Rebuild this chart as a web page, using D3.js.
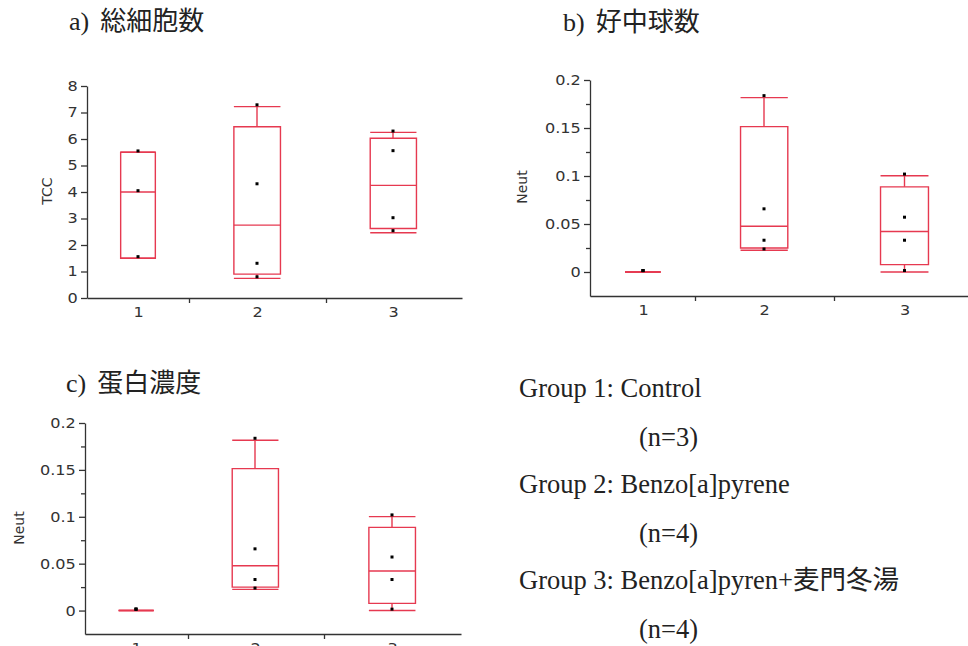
<!DOCTYPE html>
<html lang="ja">
<head>
<meta charset="UTF-8">
<title>Box charts</title>
<script src="https://d3js.org/d3.v7.min.js"></script>
<style>
  body { margin: 0; background: #fff; }
  .axis path, .axis line { stroke: #333; stroke-width: 1.3px; }
  .axis text { font-family: "DejaVu Sans", sans-serif; font-size: 14px; fill: #333; }
  .box { fill: none; stroke: #e63950; stroke-width: 1.4px; }
  .title { font-family: "Liberation Serif", "Noto Sans CJK JP", serif; font-size: 26px; fill: #222; }
  .ylab { font-family: "DejaVu Sans", sans-serif; font-size: 14px; fill: #333; }
  .legend { font-family: "Liberation Serif", "Noto Sans CJK JP", serif; font-size: 26.5px; fill: #222; }
</style>
</head>
<body>
<svg width="968" height="646"></svg>
<script>
// groups on the x axis
const groups = [1, 2, 3];

// a) total cell count (TCC)
const tccWhiskerLow  = [1.5, 0.74, 2.46];
const tccBoxLow      = [1.5, 0.9, 2.62];
const tccMedian      = [4.0, 2.75, 4.25];
const tccBoxHigh     = [5.5, 6.46, 6.03];
const tccWhiskerHigh = [5.5, 7.22, 6.25];
const tccPoints = [[1.56, 4.05, 5.55], [0.80, 1.31, 4.31, 7.29], [2.54, 3.03, 5.56, 6.30]];

// b) neutrophils (Neut)
const neutWhiskerLow  = [0, 0.0226, 0];
const neutBoxLow      = [0, 0.025, 0.0077];
const neutMedian      = [0, 0.0477, 0.0422];
const neutBoxHigh     = [0, 0.1514, 0.0887];
const neutWhiskerHigh = [0, 0.1816, 0.1002];
const neutPoints = [[0.0015, 0.0015, 0.0015], [0.024, 0.0331, 0.0658, 0.1837], [0.0015, 0.0331, 0.0571, 0.102]];

// c) protein (the original plot shows the same values as b)
const protWhiskerLow  = [0, 0.0226, 0];
const protBoxLow      = [0, 0.025, 0.0077];
const protMedian      = [0, 0.0477, 0.0422];
const protBoxHigh     = [0, 0.1514, 0.0887];
const protWhiskerHigh = [0, 0.1816, 0.1002];
const protPoints = [[0.0015, 0.0015, 0.0015], [0.024, 0.0331, 0.0658, 0.1837], [0.0015, 0.0331, 0.0571, 0.102]];

const tccTicks = [0, 1, 2, 3, 4, 5, 6, 7, 8];
const neutTicks = [0, 0.05, 0.1, 0.15, 0.2];
const neutMinor = [0.025, 0.075, 0.125, 0.175];

const groupNames = ["Control", "Benzo[a]pyrene", "Benzo[a]pyren+麦門冬湯"];
const groupN = [3, 4, 4];

const svg = d3.select("svg");
svg.append("rect").attr("width", 968).attr("height", 646).attr("fill", "#fff");

function drawPanel(p, s) {
  const g = svg.append("g");
  const y = d3.scaleLinear().domain(p.yDomain).range([p.yBottom, p.yTop]);
  // the original's x axis is slightly uneven, so map it piecewise
  const x = d3.scaleLinear().domain([0.5, 1, 1.5, 2, 2.5, 3, 3.5]).range(p.xRange);
  const x0 = p.xRange[0];

  const ya = g.append("g").attr("class", "axis").attr("transform", `translate(${x0},0)`)
    .call(d3.axisLeft(y).tickValues(p.ticks).tickSize(6).tickSizeOuter(0).tickPadding(2)
      .tickFormat(d => String(d)));
  ya.selectAll("text").attr("transform", "scale(1.15,1)");

  if (p.minor) {
    g.append("g").attr("class", "axis").attr("transform", `translate(${x0},0)`)
      .call(d3.axisLeft(y).tickValues(p.minor).tickSize(4).tickFormat(""))
      .select(".domain").remove();
  }

  g.append("g").attr("class", "axis").attr("transform", `translate(0,${p.yBottom})`)
    .call(d3.axisBottom(x).tickValues([1.5, 2.5]).tickSize(5).tickSizeOuter(0).tickFormat(""));

  const xl = g.append("g").attr("class", "axis").attr("transform", `translate(0,${p.yBottom})`)
    .call(d3.axisBottom(x).tickValues(groups).tickSize(0).tickPadding(9).tickFormat(d => String(d)));
  xl.select(".domain").remove();
  xl.selectAll("text").attr("transform", "scale(1.15,1)");

  g.append("text").attr("class", "ylab")
    .attr("transform", `translate(${p.labelX},${p.labelY}) rotate(-90)`)
    .attr("text-anchor", "middle").attr("dy", "0.35em").text(p.label);

  groups.forEach((grp, i) => {
    const cx = x(grp), xa = x(grp - 0.17), xb = x(grp + 0.17);
    const b = g.append("g");
    b.append("path").attr("class", "box")
      .attr("d", `M${cx},${y(s.whiskerHigh[i])}V${y(s.boxHigh[i])}M${cx},${y(s.boxLow[i])}V${y(s.whiskerLow[i])}`);
    b.append("path").attr("class", "box")
      .attr("d", `M${xa},${y(s.whiskerHigh[i])}H${xb}M${xa},${y(s.whiskerLow[i])}H${xb}`);
    b.append("path").attr("class", "box")
      .attr("d", `M${xa},${y(s.boxHigh[i])}H${xb}V${y(s.boxLow[i])}H${xa}Z`);
    b.append("path").attr("class", "box")
      .attr("d", `M${xa},${y(s.median[i])}H${xb}`);
    b.selectAll("rect").data(s.points[i]).join("rect")
      .attr("x", cx - 1.5).attr("y", d => y(d) - 1.5)
      .attr("width", 3).attr("height", 3).attr("fill", "#000");
  });

  const t = svg.append("text").attr("class", "title").attr("x", p.titleX).attr("y", p.titleY);
  t.append("tspan").text(p.titleTag);
  t.append("tspan").attr("dx", 11).text(p.titleText);
}

drawPanel({
  yDomain: [0, 8], yBottom: 298, yTop: 86, ticks: tccTicks,
  xRange: [87, 138, 189, 257, 326, 393, 462],
  label: "TCC", labelX: 47, labelY: 191,
  titleTag: "a)", titleText: "総細胞数", titleX: 69, titleY: 30
}, { whiskerLow: tccWhiskerLow, boxLow: tccBoxLow, median: tccMedian, boxHigh: tccBoxHigh,
     whiskerHigh: tccWhiskerHigh, points: tccPoints });

drawPanel({
  yDomain: [-0.025, 0.2], yBottom: 296, yTop: 80, ticks: neutTicks, minor: neutMinor,
  xRange: [590, 643, 695, 764, 834, 904.5, 975],
  label: "Neut", labelX: 522, labelY: 187,
  titleTag: "b)", titleText: "好中球数", titleX: 563, titleY: 31
}, { whiskerLow: neutWhiskerLow, boxLow: neutBoxLow, median: neutMedian, boxHigh: neutBoxHigh,
     whiskerHigh: neutWhiskerHigh, points: neutPoints });

drawPanel({
  yDomain: [-0.025, 0.2], yBottom: 634, yTop: 423, ticks: neutTicks, minor: neutMinor,
  xRange: [85, 136, 188, 255, 324, 392, 461],
  label: "Neut", labelX: 19, labelY: 528,
  titleTag: "c)", titleText: "蛋白濃度", titleX: 66, titleY: 392
}, { whiskerLow: protWhiskerLow, boxLow: protBoxLow, median: protMedian, boxHigh: protBoxHigh,
     whiskerHigh: protWhiskerHigh, points: protPoints });

// legend text
const leg = svg.append("g");
groupNames.forEach((name, i) => {
  leg.append("text").attr("class", "legend").attr("x", 519).attr("y", 397 + i * 96)
    .text(`Group ${groups[i]}: ${name}`);
  leg.append("text").attr("class", "legend").attr("x", 639).attr("y", 446 + i * 96)
    .text(`(n=${groupN[i]})`);
});
</script>
</body>
</html>
